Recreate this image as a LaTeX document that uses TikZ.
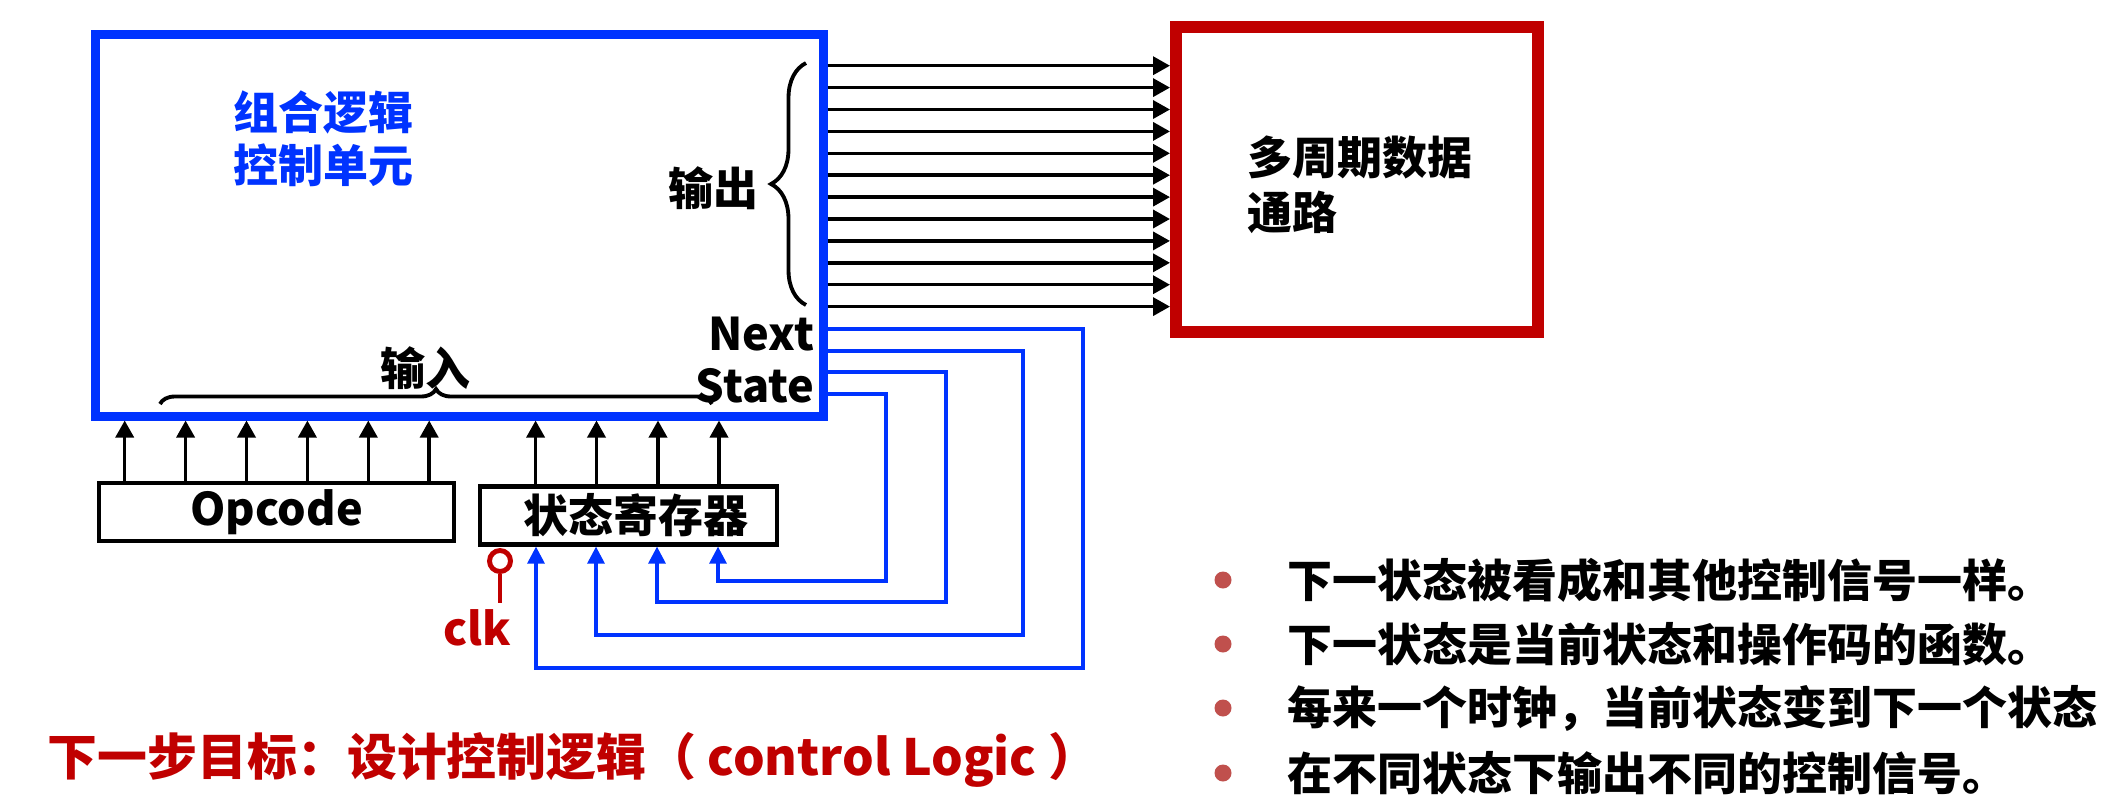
\documentclass[tikz,border=0pt]{standalone}
\usepackage{fontspec}
\setmainfont{Noto Sans CJK SC}
\usetikzlibrary{arrows.meta, calc, decorations.pathreplacing}

\definecolor{ctrlblue}{RGB}{0,51,255}
\definecolor{pathred}{RGB}{192,0,0}
\definecolor{dotred}{RGB}{192,80,77}

\begin{document}
\begin{tikzpicture}[x=0.1mm, y=-0.1mm,
    every node/.style={font=\bfseries\fontsize{12.8}{15}\selectfont, inner sep=0pt},
    ctrlbox/.style={draw=ctrlblue, line width=0.9mm, minimum width=72.75mm, minimum height=38.2mm},
    dpbox/.style={draw=pathred, line width=1.2mm, minimum width=36.2mm, minimum height=30.5mm},
    regbox/.style={draw, line width=1.2pt, minimum height=5.8mm},
    sig/.style={line width=1pt, -{Triangle[length=1.7mm, width=1.8mm]}},
    fb/.style={draw=ctrlblue, line width=0.9pt, -{Triangle[length=1.7mm, width=1.7mm]}},
    brc/.style={line width=1.1pt, decorate}]
    \useasboundingbox (0,0) rectangle (2125,801);

    % Control unit and datapath
    \node[ctrlbox] (cu) at (459.25,225) {};
    \node[dpbox] (dp) at (1357,179.5) {};
    \node[ctrlblue, anchor=west, align=left] (cuname) at (233,139) {组合逻辑\\控制单元};
    \node[anchor=west, align=left, font=\bfseries\fontsize{12.8}{15.6}\selectfont] (dpname) at (1247,185) {多周期数据\\通路};

    % Output signals
    \foreach \i in {0,...,11} {
        \pgfmathsetmacro{\y}{65.7+21.9*\i}
        \draw[sig] (cu.east |- 0,\y) -- (dp.west |- 0,\y);
    }
    \draw[brc, decoration={brace, amplitude=3.5mm}] (806,305) -- (806,63);
    \node (outlbl) at (713,188) {输出};
    \node[anchor=east, align=right] (nslbl) at (815,360) {Next\\State};

    % Inputs
    \draw[brc, decoration={brace, amplitude=1.5mm}] (160,404) -- (712,404);
    \node (inlbl) at (425,368) {输入};

    % Opcode and state register
    \node[regbox, minimum width=35.5mm] (op) at (276.5,512) {Opcode};
    \node[regbox, minimum width=29.7mm] (sr) at (628.5,515.5) {\hspace{1.5mm}状态寄存器};
    \foreach \x in {124.7,185.6,246.5,307.4,368.3,429.2} {
        \draw[sig] (op.north -| \x,0) -- (cu.south -| \x,0);
    }
    \foreach \x in {535.6,596.5,658,719} {
        \draw[sig] (sr.north -| \x,0) -- (cu.south -| \x,0);
    }

    % Next state feedback
    \foreach \y/\xr/\yb/\xl in {329/1083/668/536, 351/1023/635/596, 372/946/602/657, 394/886/581/718} {
        \draw[fb] (cu.east |- 0,\y) -| (\xr,\yb) -| (sr.south -| \xl,0);
    }

    % Clock
    \node[circle, draw=pathred, line width=1.4pt, minimum size=2.1mm] (clkring) at (500,561) {};
    \coordinate (clkend) at (500,603);
    \draw[pathred, line width=1.3pt] (clkring) -- (clkend);
    \node[pathred] (clklbl) at (477,628) {clk};

    % Notes
    \foreach \y/\t in {580/下一状态被看成和其他控制信号一样。, 644/下一状态是当前状态和操作码的函数。, 708/每来一个时钟，当前状态变到下一个状态, 773/在不同状态下输出不同的控制信号。} {
        \fill[dotred] (1223,\y) circle (0.85mm);
        \node[anchor=west] (note\y) at (1287,\y) {\t};
    }
    \node[pathred, anchor=west, font=\bfseries\fontsize{14.2}{16}\selectfont] (goal) at (47,760) {下一步目标：设计控制逻辑（ control Logic ）};
\end{tikzpicture}
\end{document}
